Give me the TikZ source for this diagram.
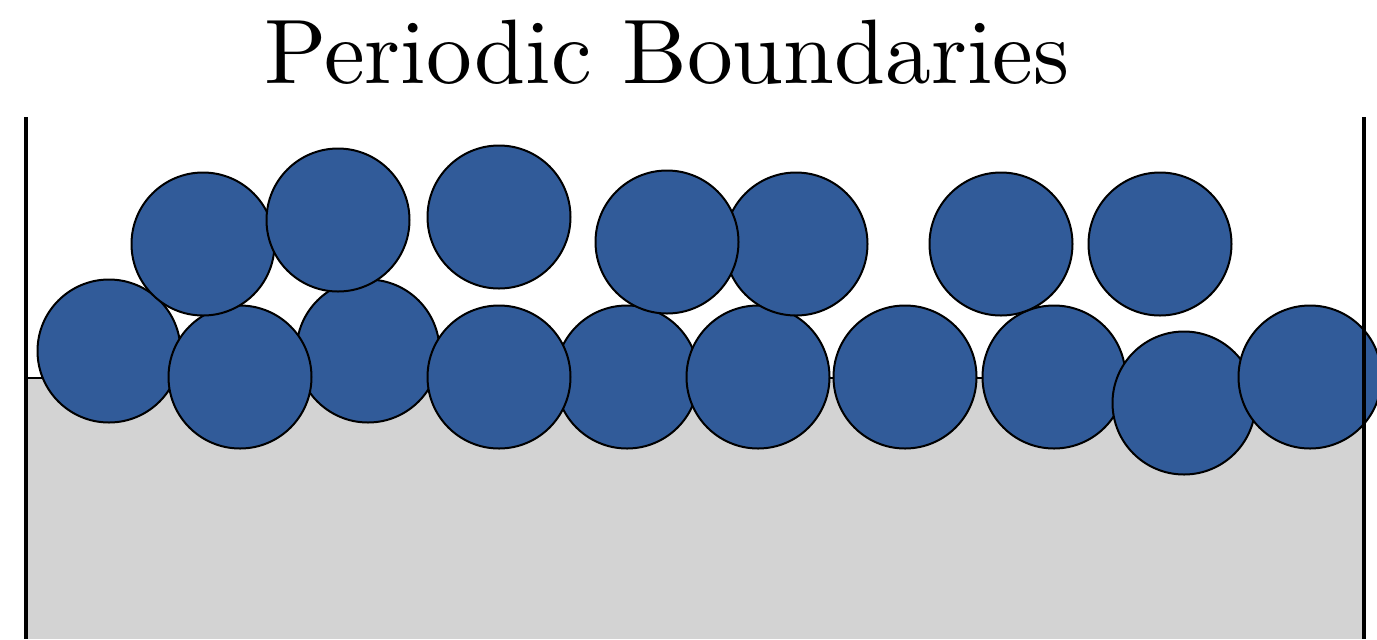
\documentclass[tikz,border=0pt]{standalone}
\usepackage{fontspec}
\newfontfamily\titlefont{lmroman10-regular.otf}
\definecolor{ballblue}{RGB}{49,91,153}
\definecolor{floorgray}{RGB}{211,211,211}
\begin{document}
\begin{tikzpicture}[x=0.5pt,y=-0.5pt,
  ball/.style={circle,draw=black,line width=1pt,fill=ballblue,minimum size=143*0.5pt,inner sep=0pt},
  wall/.style={line width=2.4pt,black},
  floor/.style={fill=floorgray,draw=none}]
\useasboundingbox (0,0) rectangle (1377,639);
\clip (0,0) rectangle (1377,639);
\node[anchor=base,inner sep=0pt,font=\titlefont\fontsize{45.8}{50}\selectfont] (title) at (667,83) {Periodic Boundaries};
\fill[floor] (26,378) rectangle (1364,639);
\draw[line width=0.75pt] (26,378) -- (1364,378);
% bottom row
\node[ball] (b1) at (109,351) {};
\node[ball] (b3) at (368,351) {};
\node[ball] (b2) at (240,377) {};
\node[ball] (b5) at (627,377) {};
\node[ball] (b4) at (499,377) {};
\node[ball] (b6) at (758,377) {};
\node[ball] (b7) at (905,377) {};
\node[ball] (b8) at (1054,377) {};
\node[ball] (b9) at (1184,403) {};
\node[ball] (b10) at (1310,377) {};
% top row
\node[ball] (t1) at (203,244) {};
\node[ball] (t2) at (338,220) {};
\node[ball] (t3) at (499,217) {};
\node[ball] (t5) at (796,244) {};
\node[ball] (t4) at (667,242) {};
\node[ball] (t6) at (1001,244) {};
\node[ball] (t7) at (1160,244) {};
% walls
\coordinate (lwt) at (26,117);
\coordinate (lwb) at (26,639);
\coordinate (rwt) at (1364,117);
\coordinate (rwb) at (1364,639);
\draw[wall] (lwt) -- (lwb);
\draw[wall] (rwt) -- (rwb);
\end{tikzpicture}
\end{document}
